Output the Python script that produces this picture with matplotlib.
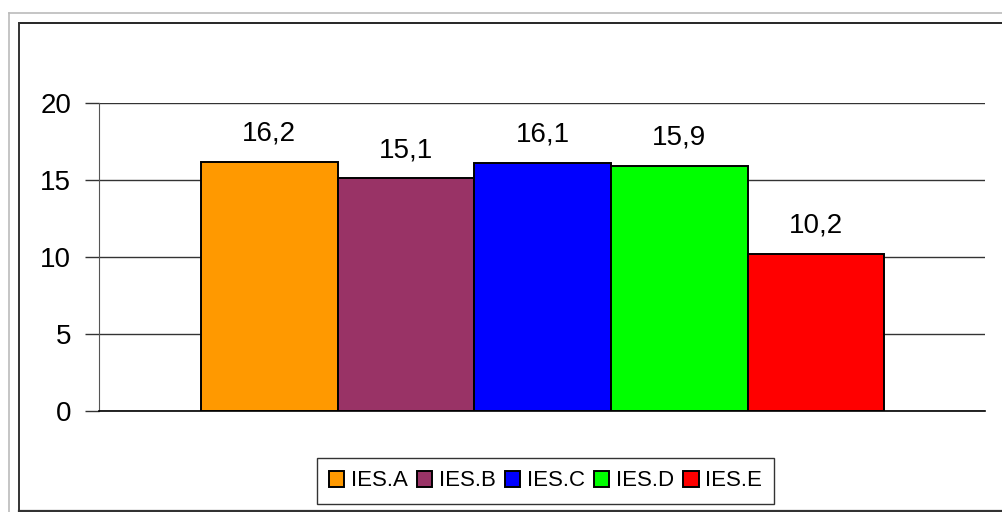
import matplotlib.pyplot as plt
from matplotlib.lines import Line2D
import numpy as np

series = ["IES.A", "IES.B", "IES.C", "IES.D", "IES.E"]
values = [16.2, 15.1, 16.1, 15.9, 10.2]
colors = ["#FF9900", "#993366", "#0000FF", "#00FF00", "#FF0000"]
yticks = [0, 5, 10, 15, 20]

plt.rcParams['font.family'] = ['Liberation Sans', 'DejaVu Sans']

W, H = 1002, 512
fig = plt.figure(figsize=(W / 100, H / 100), dpi=100)
fig.patch.set_facecolor('white')

# plot area in pixels: x 99..985, y 103..411
ax = fig.add_axes([99 / W, (H - 411) / H, 886 / W, 308 / H])

x = np.arange(len(series))
bars = ax.bar(x, values, width=1.0, color=colors, edgecolor='black',
              linewidth=1.4, label=series, zorder=3)

for xi, v in zip(x, values):
    ax.annotate(f"{v:.1f}".replace('.', ','), (xi, v), xytext=(0, 11),
                textcoords='offset points', ha='center', va='bottom',
                fontsize=20, color='black')

ax.set_xlim(-1.246, 5.238)
ax.set_ylim(0, 20)
ax.set_yticks(yticks)
ax.set_yticklabels([str(t) for t in yticks], fontsize=20)
ax.set_xticks([])
ax.yaxis.grid(True, color='#333333', linewidth=1.0, zorder=0)
for s in ['top', 'right']:
    ax.spines[s].set_visible(False)
ax.spines['left'].set_color('#555555')
ax.spines['bottom'].set_color('black')
ax.spines['bottom'].set_linewidth(1.2)
ax.tick_params(axis='y', length=10, width=1, color='#333333', pad=10)

leg = fig.legend(bars, series, loc='center', ncol=5,
                 bbox_to_anchor=(545.5 / W, 31 / H), fontsize=16,
                 frameon=True, fancybox=False, edgecolor='black',
                 handlelength=0.7, handleheight=0.7, handletextpad=0.3,
                 columnspacing=0.4, borderpad=0.55, borderaxespad=0)
leg.get_frame().set_linewidth(1.0)


def px_line(x0, y0, x1, y1, color, lw):
    fig.add_artist(Line2D([x0 / W, x1 / W], [1 - y0 / H, 1 - y1 / H],
                          transform=fig.transFigure, color=color, linewidth=lw))


# outer grey frame and inner black frame (cropped at right/bottom)
px_line(9, 13, 1002, 13, '#bbbbbb', 1.2)
px_line(9, 13, 9, 512, '#bbbbbb', 1.2)
px_line(19, 23, 1002, 23, 'black', 1.2)
px_line(19, 23, 19, 510.5, '#333333', 1.4)
px_line(19, 510.5, 1002, 510.5, '#333333', 1.6)

fig.savefig("out.png", dpi=100, facecolor='white')
plt.close(fig)
